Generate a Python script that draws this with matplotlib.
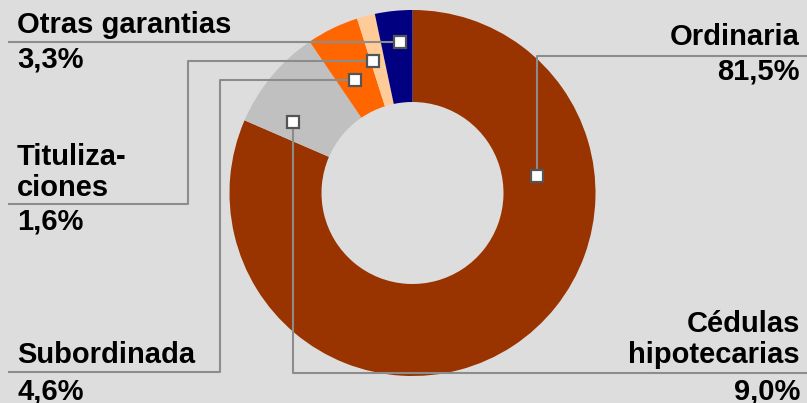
import numpy as np
import matplotlib
matplotlib.use("Agg")
from matplotlib import pyplot as plt

plt.rcParams['font.family'] = ['Liberation Sans', 'DejaVu Sans']

# data
categories = ['Ordinaria', 'Cédulas\nhipotecarias', 'Subordinada', 'Tituliza-\nciones', 'Otras garantias']
shares = [81.5, 9.0, 4.6, 1.6, 3.3]
colors = ['#993300', '#C0C0C0', '#FF6600', '#FFCC99', '#000080']

W, H = 807, 403
BG = '#DDDDDD'
LINE = '#8C8C8C'

fig = plt.figure(figsize=(W / 100, H / 100), dpi=100, facecolor=BG)
ax = fig.add_axes([0, 0, 1, 1])
ax.set_facecolor(BG)

def py(y):
    # pixel row -> data y (y axis points up)
    return H - y

cx, cy, R, r_in = 412.5, 193, 183, 91
ax.pie(shares, colors=colors, startangle=90, counterclock=False,
       center=(cx, py(cy)), radius=R,
       wedgeprops=dict(width=R - r_in, linewidth=0))
ax.set_xlim(0, W)
ax.set_ylim(0, H)
ax.set_aspect('equal')
ax.axis('off')

# leader layout: marker anchor, path of the line, text anchor, alignment
layout = {
    'Ordinaria': dict(path=[(537, 176), (537, 56), (807, 56)], x=800, name_y=45, val_y=80, ha='right'),
    'Cédulas\nhipotecarias': dict(path=[(293, 122), (293, 373), (807, 373)], x=800, name_y=363, val_y=400, ha='right'),
    'Subordinada': dict(path=[(355, 80), (220, 80), (220, 372), (8, 372)], x=17, name_y=363, val_y=399, ha='left'),
    'Tituliza-\nciones': dict(path=[(373, 61), (188, 61), (188, 204), (8, 204)], x=17, name_y=196, val_y=230, ha='left'),
    'Otras garantias': dict(path=[(400, 42), (8, 42)], x=17, name_y=33, val_y=68, ha='left'),
}

fs = 21
for name, val in zip(categories, shares):
    lay = layout[name]
    xs = [p[0] for p in lay['path']]
    ys = [py(p[1]) for p in lay['path']]
    ax.plot(xs, ys, color=LINE, lw=1.5, solid_capstyle='butt', zorder=3)
    ax.plot(xs[0], ys[0], marker='s', ms=9, mfc='white', mec='#555555', mew=1.6, zorder=4)
    ax.text(lay['x'], py(lay['name_y']), name, ha=lay['ha'], va='baseline',
            fontsize=fs, fontweight='bold', linespacing=1.15, multialignment=lay['ha'])
    ax.text(lay['x'], py(lay['val_y']), f"{val:.1f}".replace('.', ',') + '%', ha=lay['ha'],
            va='baseline', fontsize=fs, fontweight='bold')

fig.savefig('out.png', dpi=100, facecolor=BG)
